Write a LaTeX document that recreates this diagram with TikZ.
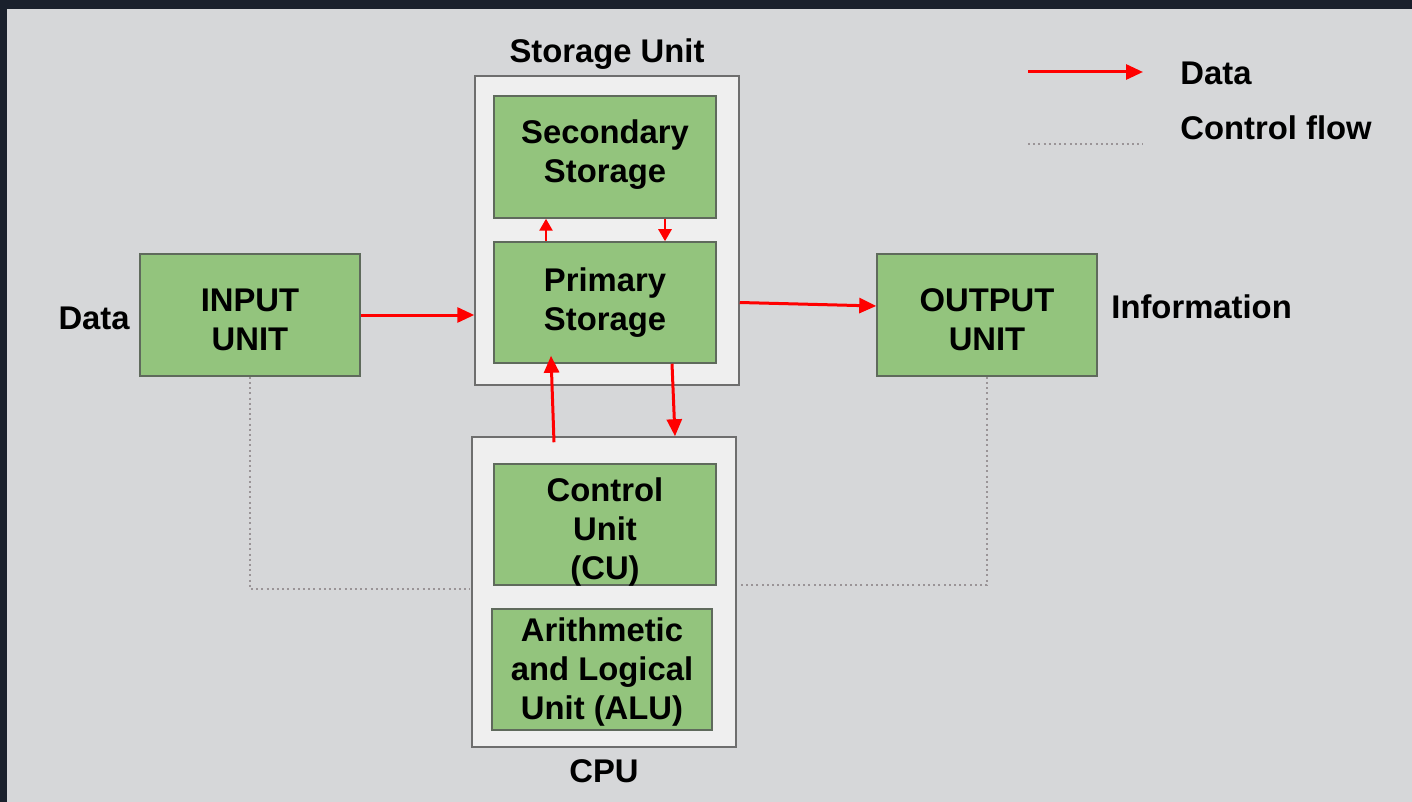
\documentclass[tikz,border=0pt]{standalone}
\usepackage{fontspec}
\setmainfont{Liberation Sans}
\usetikzlibrary{arrows.meta,calc}
\definecolor{pagebg}{HTML}{D6D7D9}
\definecolor{frame}{HTML}{1A202C}
\definecolor{boxgreen}{HTML}{93C47D}
\definecolor{greenedge}{HTML}{5F6A5C}
\definecolor{outerfill}{HTML}{EFEFEF}
\definecolor{outeredge}{HTML}{6E6E6E}
\definecolor{datared}{HTML}{FF0000}
\definecolor{ctrlgray}{HTML}{9A9497}
\tikzset{
  txt/.style={font=\fontsize{16.4}{19.5}\selectfont\bfseries, text=black, align=center, inner sep=0pt},
  greenbox/.style={draw=greenedge, line width=0.75pt, fill=boxgreen, inner sep=0pt},
  outerbox/.style={draw=outeredge, line width=0.75pt, fill=outerfill, inner sep=0pt},
  dataarrow/.style={draw=datared, line width=1.5pt, -{Triangle[length=8.5pt,width=7.5pt]}},
  smallarrow/.style={draw=datared, line width=1.3pt, -{Triangle[length=6pt,width=6.5pt]}},
  ctrlline/.style={draw=ctrlgray, line width=0.6pt, dash pattern=on 1pt off 1.6pt},
  lbl/.style={txt, anchor=base}
}
\begin{document}
\begin{tikzpicture}[x=0.5pt,y=-0.5pt]
\useasboundingbox (0,0) rectangle (1412,802);
\fill[frame] (0,0) rectangle (1412,802);
\fill[pagebg] (7,9) rectangle (1412,802);

% outer containers
\node[outerbox, minimum width=132pt, minimum height=154.5pt] (stor) at (607,230.5) {};
\node[outerbox, minimum width=132pt, minimum height=155pt] (cpu) at (604,592) {};

% green boxes
\node[greenbox, minimum width=110pt, minimum height=61pt] (inp) at (250,315) {};
\node[greenbox, minimum width=110pt, minimum height=61pt] (out) at (987,315) {};
\node[greenbox, minimum width=111pt, minimum height=61pt] (sec) at (605,157) {};
\node[greenbox, minimum width=111pt, minimum height=60.5pt] (prim) at (605,302.5) {};
\node[greenbox, minimum width=111pt, minimum height=60.5pt] (cu) at (605,524.5) {};
\node[greenbox, minimum width=110pt, minimum height=60.5pt] (alu) at (602,669.5) {};

% box texts
\node[txt] (inptxt) at ([yshift=-2.5pt]inp.center) {INPUT\\UNIT};
\node[txt] (outtxt) at ([yshift=-2.5pt]out.center) {OUTPUT\\UNIT};
\node[txt] (sectxt) at ([yshift=1pt]sec.center) {Secondary\\Storage};
\node[txt] (primtxt) at (prim.center) {Primary\\Storage};
\node[txt] (cutxt) at ([yshift=-4pt]cu.center) {Control\\Unit\\(CU)};
\node[txt] (alutxt) at ([yshift=-1.5pt]alu.center) {Arithmetic\\and Logical\\Unit (ALU)};

% labels
\node[lbl] (storlbl) at (607,63) {Storage Unit};
\node[lbl] (cpulbl) at (604,782) {CPU};
\node[lbl, anchor=base east] (datalbl) at (130,329) {Data};
\node[lbl, anchor=base west] (infolbl) at (1111,318) {Information};

% data arrows
\draw[dataarrow] (inp.east) -- (inp.east -| stor.west);
\draw[dataarrow] (stor.east |- prim.east) -- ([yshift=4.5pt]out.west);
\draw[smallarrow] ([xshift=-29.5pt]prim.north) -- ([xshift=-29.5pt]sec.south);
\draw[smallarrow] ([xshift=30pt]sec.south) -- ([xshift=30pt]prim.north);
\draw[dataarrow] ([xshift=-25pt,yshift=-3pt]cpu.north) -- ([xshift=-27pt,yshift=4pt]prim.south);
\draw[dataarrow] ([xshift=33.5pt]prim.south) -- ([xshift=35.5pt]cpu.north);

% control flow
\draw[ctrlline] (inp.south) |- ([xshift=-0.5pt,yshift=1.5pt]cpu.west);
\draw[ctrlline] (out.south) |- ([xshift=2pt,yshift=3.5pt]cpu.east);

% legend
\coordinate (la) at (1028,72);
\coordinate (lb) at (1143,72);
\coordinate (lc) at (1028,144);
\coordinate (ld) at (1143,144);
\draw[dataarrow] (la) -- (lb);
\draw[ctrlline] (lc) -- (ld);
\node[lbl, anchor=base west] (legdata) at (1180,85) {Data};
\node[lbl, anchor=base west] (legctrl) at (1180,140) {Control flow};
\end{tikzpicture}
\end{document}
